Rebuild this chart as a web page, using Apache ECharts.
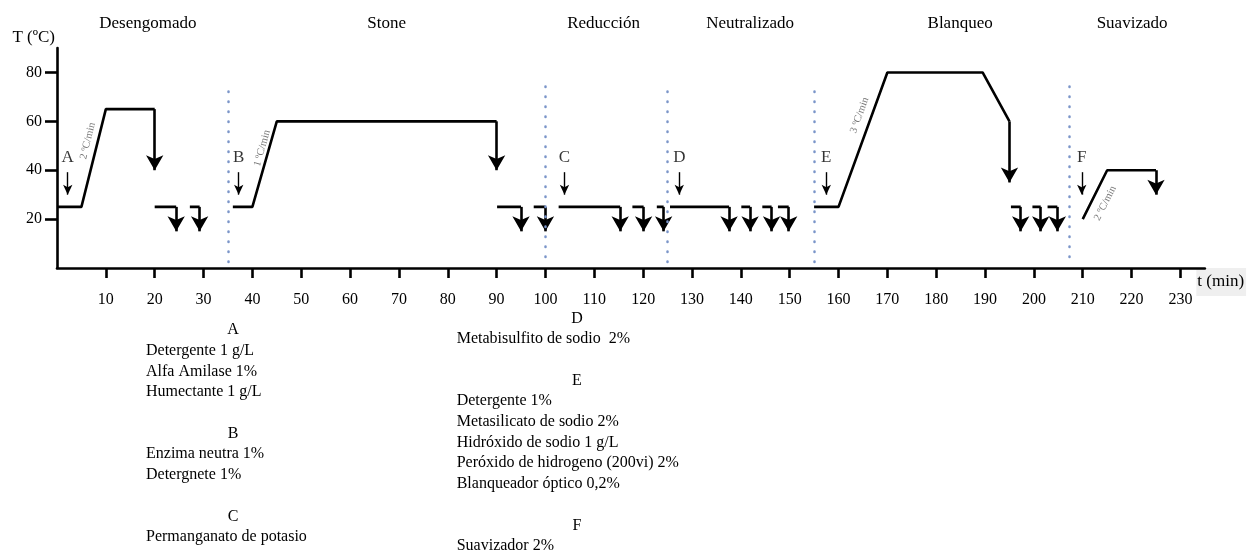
<!DOCTYPE html>
<html>
<head>
<meta charset="utf-8">
<script src="https://cdn.jsdelivr.net/npm/echarts@6/dist/echarts.min.js"></script>
<style>
  html, body { margin: 0; padding: 0; background: #fff; }
  #chart { width: 1247px; height: 552px; }
</style>
</head>
<body>
<div id="chart"></div>
<script>
// perfil de temperatura por etapa [t (min), T (ºC)]
const desengomado  = [[0, 25], [5, 25], [10, 65], [20, 65]];
const stone        = [[36, 25], [40, 25], [45, 60], [90, 60]];
const reduccion    = [[102.7, 25], [115.3, 25]];
const neutralizado = [[125.5, 25], [137.6, 25]];
const blanqueo     = [[155, 25], [160, 25], [170, 80], [189.5, 80], [195, 60]];
const suavizado    = [[210, 20], [215, 40], [225, 40]];

// descargas de baño [t, T inicio, T fin]
const descargas = [[20, 65, 40], [90, 60, 40], [115.3, 25, 15], [137.6, 25, 15], [195, 60, 35], [225, 40, 30]];
// enjuagues a 25 ºC [t inicio, t descarga]
const enjuagues = [[20, 24.4], [27.2, 29.2], [90.1, 95], [97.6, 100], [117.8, 120.1], [122.8, 124.2],
                   [140.1, 141.9], [144.4, 146.3], [147.6, 149.8], [195.3, 197.3], [199.7, 201.4], [202.8, 204.8]];

// adición de productos [t, letra]
const adiciones = [[2.2, 'A'], [37.2, 'B'], [103.9, 'C'], [127.4, 'D'], [157.5, 'E'], [209.8, 'F']];

// pendientes de calentamiento [t, T, giro, texto]
const pendientes = [[6.3, 52, 76, '2 ºC/min'], [42.0, 49, 74, '1 ºC/min'], [164.3, 62.5, 70, '3 ºC/min'], [214.6, 26.5, 63, '2 ºC/min']];

// separadores de etapa [t, T inf, T sup]
const separadores = [[35, 2.5, 75.5], [100, 4.5, 77.5], [125, 2.5, 75.5], [155, 2.5, 75.5], [207.3, 4.5, 77.5]];

const etapas = ['Desengomado', 'Stone', 'Reducción', 'Neutralizado', 'Blanqueo', 'Suavizado'];
const etapaCentro = [18.6, 67.5, 111.9, 141.9, 184.9, 220.1];

const xTicks = [10, 20, 30, 40, 50, 60, 70, 80, 90, 100, 110, 120, 130, 140, 150, 160, 170, 180, 190, 200, 210, 220, 230];
const yTicks = [20, 40, 60, 80];

const notasIzq = [
  ['A', ['Detergente 1 g/L', 'Alfa Amilase 1%', 'Humectante 1 g/L']],
  ['B', ['Enzima neutra 1%', 'Detergnete 1%']],
  ['C', ['Permanganato de potasio']]
];
const notasDer = [
  ['D', ['Metabisulfito de sodio  2%']],
  ['E', ['Detergente 1%', 'Metasilicato de sodio 2%', 'Hidróxido de sodio 1 g/L', 'Peróxido de hidrogeno (200vi) 2%', 'Blanqueador óptico 0,2%']],
  ['F', ['Suavizador 2%']]
];

const FONT = 'Liberation Serif';

let chart = echarts.init(document.getElementById('chart'));

let series = [];
// tramos del perfil
[desengomado, stone, reduccion, neutralizado, blanqueo, suavizado].forEach(function (d) {
  series.push({
    type: 'line', data: d, symbol: 'none', silent: true,
    lineStyle: { color: '#000', width: 2.6 }
  });
});
// tramo horizontal de cada enjuague
enjuagues.forEach(function (e) {
  series.push({
    type: 'line', data: [[e[0], 25], [e[1], 25]], symbol: 'none', silent: true,
    lineStyle: { color: '#000', width: 2.6 }
  });
});
// flechas gruesas
let flechas = descargas.map(function (d) {
  return [{ coord: [d[0], d[1]] }, { coord: [d[0], d[2]] }];
}).concat(enjuagues.map(function (e) {
  return [{ coord: [e[1], 25] }, { coord: [e[1], 15] }];
}));
series.push({
  type: 'line', data: [], silent: true,
  markLine: {
    silent: true, animation: false,
    symbol: ['none', 'arrow'], symbolSize: [13, 15],
    label: { show: false },
    lineStyle: { color: '#000', width: 2.6, type: 'solid' },
    data: flechas
  }
});
// flechas finas de adición
series.push({
  type: 'line', data: [], silent: true,
  markLine: {
    silent: true, animation: false,
    symbol: ['none', 'arrow'], symbolSize: [7, 10],
    label: { show: false },
    lineStyle: { color: '#000', width: 1.4, type: 'solid' },
    data: adiciones.map(function (a) {
      return [{ coord: [a[0], 39.2] }, { coord: [a[0], 30] }];
    })
  }
});
// separadores punteados
series.push({
  type: 'line', data: [], silent: true,
  markLine: {
    silent: true, animation: false, symbol: ['none', 'none'],
    label: { show: false },
    lineStyle: { color: '#7b95c9', width: 2.5, type: [0.5, 9.5], cap: 'round' },
    data: separadores.map(function (s) {
      return [{ coord: [s[0], s[1]] }, { coord: [s[0], s[2]] }];
    })
  }
});
// letras
series.push({
  type: 'scatter', symbolSize: 0, silent: true,
  data: adiciones.map(function (a) { return [a[0], 45.3, a[1]]; }),
  label: {
    show: true, position: 'inside', color: '#000', fontFamily: FONT, fontSize: 17,
    formatter: function (p) { return p.data[2]; }
  }
});
// pendientes
series.push({
  type: 'scatter', symbolSize: 0, silent: true,
  data: pendientes.map(function (p) {
    return {
      value: [p[0], p[1]],
      label: { rotate: p[2], formatter: p[3] }
    };
  }),
  label: { show: true, position: 'inside', color: '#555', fontFamily: FONT, fontSize: 10.5 }
});

let option = {
  animation: false,
  backgroundColor: '#fff',
  grid: { left: 57, top: 48, right: 39.2, bottom: 284, containLabel: false },
  xAxis: {
    type: 'value', min: 0, max: 235,
    name: 't (min)', nameLocation: 'end', nameGap: -9,
    nameTextStyle: {
      color: '#000', fontFamily: FONT, fontSize: 17, align: 'left', verticalAlign: 'top',
      backgroundColor: '#efefef', padding: [5, 2, 6, 1]
    },
    splitLine: { show: false },
    axisLine: { show: true, lineStyle: { color: '#000', width: 2.6 } },
    axisTick: { show: true, length: 10, lineStyle: { color: '#000', width: 2.6 }, customValues: xTicks },
    axisLabel: { color: '#000', fontFamily: FONT, fontSize: 16, margin: 24, customValues: xTicks }
  },
  yAxis: {
    type: 'value', min: 0, max: 90,
    name: 'T (ºC)', nameLocation: 'end', nameGap: 10,
    nameTextStyle: { color: '#000', fontFamily: FONT, fontSize: 17, align: 'right', verticalAlign: 'middle', padding: [0, 2, 0, 0] },
    splitLine: { show: false },
    axisLine: { show: true, lineStyle: { color: '#000', width: 2.6 } },
    axisTick: { show: true, length: 12, lineStyle: { color: '#000', width: 2.6 }, customValues: yTicks },
    axisLabel: { color: '#000', fontFamily: FONT, fontSize: 16, margin: 15, customValues: yTicks }
  },
  series: series
};
chart.setOption(option);

// títulos de etapa y notas de productos
let graphics = [];
etapas.forEach(function (n, i) {
  let px = chart.convertToPixel({ xAxisIndex: 0 }, etapaCentro[i]);
  graphics.push({
    type: 'text', x: px, y: 24, silent: true,
    style: { text: n, fill: '#000', font: '17px "' + FONT + '"', align: 'center', verticalAlign: 'middle' }
  });
});
function notas(lista, xHead, xItem, y0) {
  let y = y0;
  const paso = 20.7;
  lista.forEach(function (g) {
    graphics.push({
      type: 'text', x: xHead, y: y, silent: true,
      style: { text: g[0], fill: '#000', font: '16px "' + FONT + '"', align: 'center', verticalAlign: 'middle' }
    });
    y += paso;
    g[1].forEach(function (t) {
      graphics.push({
        type: 'text', x: xItem, y: y, silent: true,
        style: { text: t, fill: '#000', font: '16px "' + FONT + '"', align: 'left', verticalAlign: 'middle' }
      });
      y += paso;
    });
    y += paso;
  });
}
notas(notasIzq, 233, 146, 330);
notas(notasDer, 577, 456.7, 318.3);
chart.setOption({ graphic: graphics });

window.addEventListener('resize', () => { chart.resize(); }, true);
</script>
</body>
</html>
